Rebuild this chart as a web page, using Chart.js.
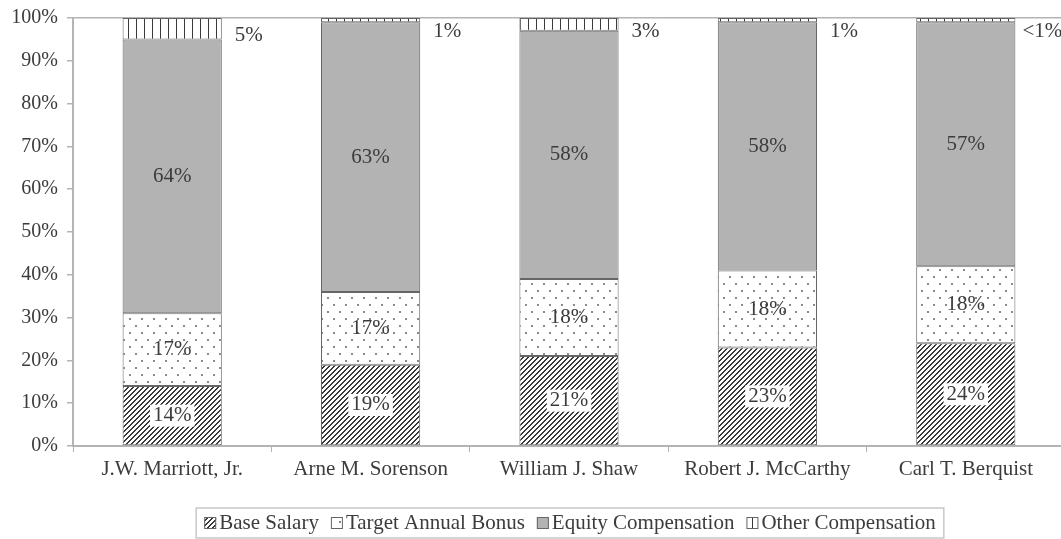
<!DOCTYPE html>
<html>
<head>
<meta charset="utf-8">
<script src="https://cdn.jsdelivr.net/npm/chart.js@4.4.1/dist/chart.umd.min.js"></script>
<style>
  html, body { margin: 0; padding: 0; background: #fff; overflow: hidden; }
  #wrap { width: 1075px; height: 539px; }
</style>
</head>
<body>
<div id="wrap"><canvas id="cnv_comp_chart" width="1075" height="539"></canvas></div>
<script>
// Executive pay mix (% of total)
const categories = ['J.W. Marriott, Jr.', 'Arne M. Sorenson', 'William J. Shaw', 'Robert J. McCarthy', 'Carl T. Berquist'];
const seriesNames = ['Base Salary', 'Target Annual Bonus', 'Equity Compensation', 'Other Compensation'];
const baseSalary = [14, 19, 21, 23, 24];
const targetBonus = [17, 17, 18, 18, 18];
const equityComp = [64, 63, 58, 58, 57];
const otherComp = [5, 1, 3, 1, 1];
const otherLabels = ['5%', '1%', '3%', '1%', '<1%'];

const FONT = '"Liberation Serif", "Times New Roman", serif';
const TEXT = '#3c3c3c';
const AXIS = '#b4b4b4';

const ctx = document.getElementById('cnv_comp_chart').getContext('2d');

// small tiles for the hatch fills
const makePattern = (w, h, draw) => {
	const c = document.createElement('canvas');
	c.width = w; c.height = h;
	const g = c.getContext('2d');
	g.fillStyle = '#fff';
	g.fillRect(0, 0, w, h);
	draw(g);
	return ctx.createPattern(c, 'repeat');
}
const hatchFill = makePattern(5, 5, g => {
	g.fillStyle = '#3a3a3a';
	for (let i = 0; i < 5; i++) {
		g.fillRect(i, 4 - i, 1, 1);
		g.fillRect(i, (5 - i) % 5, 1, 1);
	}
});
const dotFill = makePattern(12, 14, g => {
	g.fillStyle = '#8a8a8a';
	g.fillRect(3, 3, 2, 2);
	g.fillRect(9, 10, 2, 2);
});
const stripeFill = makePattern(8, 8, g => {
	g.fillStyle = '#3a3a3a';
	g.fillRect(0, 0, 1, 8);
});
const equityFill = '#b3b3b3';
const fills = [hatchFill, dotFill, equityFill, stripeFill];

const datasets = [baseSalary, targetBonus, equityComp, otherComp].map((data, i) => ({
	label: seriesNames[i],
	data: data,
	backgroundColor: fills[i],
	borderColor: '#666',
	borderWidth: 1,
	borderSkipped: false
}));

// value labels: inside the first three segments, beside the bar for "other"
const labelPlugin = {
	id: 'segLabels',
	afterDatasetsDraw(chart) {
		const c = chart.ctx;
		c.save();
		c.font = '21px ' + FONT;
		c.fillStyle = TEXT;
		c.textBaseline = 'middle';
		[baseSalary, targetBonus, equityComp].forEach((arr, di) => {
			chart.getDatasetMeta(di).data.forEach((bar, i) => {
				const txt = arr[i] + '%';
				const y = (bar.y + bar.base) / 2;
				const w = c.measureText(txt).width;
				if (di === 0) {
					c.fillStyle = '#fff';
					c.fillRect(bar.x - w / 2 - 3, y - 11, w + 6, 22);
					c.fillStyle = TEXT;
				}
				c.textAlign = 'center';
				c.fillText(txt, bar.x, y);
			});
		});
		chart.getDatasetMeta(3).data.forEach((bar, i) => {
			const h = bar.base - bar.y;
			const y = bar.y + Math.max(h / 2, 6) + 7;
			c.textAlign = 'center';
			c.fillText(otherLabels[i], bar.x + bar.width / 2 + 27, y);
		});
		c.restore();
	}
}

// boxed legend under the axis
const legendPlugin = {
	id: 'boxLegend',
	afterDraw(chart) {
		const c = chart.ctx;
		c.save();
		c.font = '21px ' + FONT;
		const box = 12, gapIn = 3, gapOut = 12;
		const widths = seriesNames.map(n => c.measureText(n).width);
		const total = widths.reduce((a, w) => a + box + gapIn + w, 0) + gapOut * (seriesNames.length - 1);
		let x = 570 - total / 2;
		const yMid = 522;
		c.strokeStyle = '#c8c8c8';
		c.lineWidth = 1.5;
		c.strokeRect(x - 8, 508, total + 16, 30);
		seriesNames.forEach((n, i) => {
			c.fillStyle = fills[i];
			c.fillRect(x, yMid - 5, box, box);
			c.strokeStyle = '#666';
			c.lineWidth = 1;
			c.strokeRect(x + 0.5, yMid - 4.5, box - 1, box - 1);
			c.fillStyle = TEXT;
			c.textAlign = 'left';
			c.textBaseline = 'middle';
			c.fillText(n, x + box + gapIn, yMid + 1);
			x += box + gapIn + widths[i] + gapOut;
		});
		c.restore();
	}
}

new Chart(ctx, {
	type: 'bar',
	data: { labels: categories, datasets: datasets },
	plugins: [labelPlugin, legendPlugin],
	options: {
		responsive: false,
		animation: false,
		layout: { padding: { top: 0, right: 10, left: 0, bottom: 0 } },
		plugins: { legend: { display: false }, tooltip: { enabled: false } },
		datasets: { bar: { categoryPercentage: 1, barPercentage: 0.5 } },
		scales: {
			x: {
				stacked: true,
				afterFit: s => { s.height = 93; },
				border: { color: AXIS, width: 2 },
				grid: { drawOnChartArea: false, drawTicks: true, tickLength: 6, tickColor: AXIS, offset: true },
				ticks: { color: TEXT, font: { family: FONT, size: 21 }, padding: 5, maxRotation: 0 }
			},
			y: {
				stacked: true,
				min: 0,
				max: 100,
				afterFit: s => { s.width = 73; },
				border: { color: AXIS, width: 2 },
				grid: {
					color: c => c.tick && c.tick.value === 100 ? AXIS : 'rgba(0,0,0,0)',
					lineWidth: 1.5,
					tickLength: 6,
					tickColor: AXIS
				},
				ticks: {
					stepSize: 10,
					color: TEXT,
					font: { family: FONT, size: 20, lineHeight: 0.9 },
					padding: 9,
					callback: v => v + '%'
				}
			}
		}
	}
});
</script>
</body>
</html>
